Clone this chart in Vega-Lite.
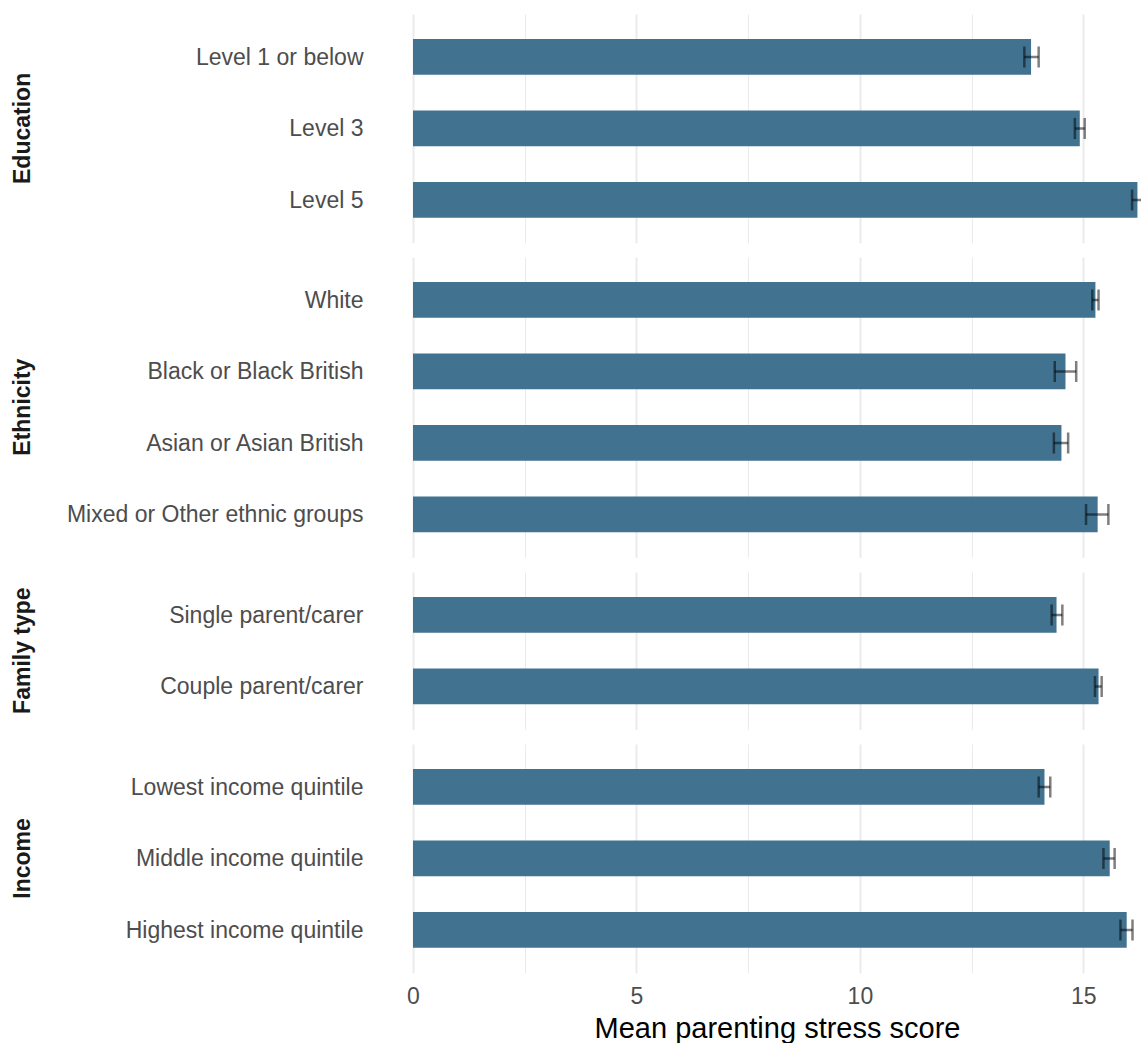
{
  "$schema": "https://vega.github.io/schema/vega-lite/v6.json",
  "padding": {"left": 12, "top": 14, "right": 0, "bottom": 5},
  "autosize": {"type": "pad"},
  "background": "white",
  "config": {"view": {"stroke": null}, "font": "Liberation Sans"},
  "data": {"values": [
    {"group": "Education", "category": "Level 1 or below", "mean": 13.83, "lower": 13.68, "upper": 14.0},
    {"group": "Education", "category": "Level 3", "mean": 14.92, "lower": 14.81, "upper": 15.03},
    {"group": "Education", "category": "Level 5", "mean": 16.21, "lower": 16.09, "upper": 16.33},
    {"group": "Ethnicity", "category": "White", "mean": 15.27, "lower": 15.2, "upper": 15.34},
    {"group": "Ethnicity", "category": "Black or Black British", "mean": 14.6, "lower": 14.36, "upper": 14.84},
    {"group": "Ethnicity", "category": "Asian or Asian British", "mean": 14.51, "lower": 14.34, "upper": 14.66},
    {"group": "Ethnicity", "category": "Mixed or Other ethnic groups", "mean": 15.32, "lower": 15.06, "upper": 15.56},
    {"group": "Family type", "category": "Single parent/carer", "mean": 14.4, "lower": 14.29, "upper": 14.53},
    {"group": "Family type", "category": "Couple parent/carer", "mean": 15.34, "lower": 15.26, "upper": 15.41},
    {"group": "Income", "category": "Lowest income quintile", "mean": 14.13, "lower": 14.0, "upper": 14.26},
    {"group": "Income", "category": "Middle income quintile", "mean": 15.59, "lower": 15.45, "upper": 15.7},
    {"group": "Income", "category": "Highest income quintile", "mean": 15.97, "lower": 15.83, "upper": 16.1}
  ]},
  "facet": {"row": {"field": "group", "type": "nominal", "sort": ["Education", "Ethnicity", "Family type", "Income"], "title": null,
    "header": {"labelAngle": -90, "labelOrient": "left", "labelFontSize": 23, "labelFontWeight": "bold", "labelFont": "Liberation Sans", "labelColor": "#1a1a1a", "labelPadding": 20}}},
  "spacing": 14,
  "resolve": {"scale": {"y": "independent"}, "axis": {"y": "independent"}},
  "spec": {
    "width": 728,
    "height": {"step": 71.5},
    "encoding": {
      "y": {"field": "category", "type": "nominal", "sort": null, "title": null,
        "scale": {"paddingInner": 0.5, "paddingOuter": 0.35},
        "axis": {"domain": false, "ticks": false, "grid": false, "labelPadding": 50, "labelOffset": 1, "labelFontSize": 23, "labelColor": "#4d4d4d", "labelFont": "Liberation Sans", "labelLimit": 500}}
    },
    "layer": [
      {"mark": {"type": "bar", "color": "#417290", "clip": true},
       "encoding": {"x": {"field": "mean", "type": "quantitative", "title": "Mean parenting stress score",
         "scale": {"domain": [0, 16.29], "nice": false, "zero": true},
         "axis": {"values": [0, 2.5, 5, 7.5, 10, 12.5, 15], "labelExpr": "datum.value % 5 === 0 ? datum.label : ''",
           "domain": false, "ticks": false, "grid": true, "gridColor": "#ebebeb", "labelFlush": false, "labelOverlap": false,
           "gridWidth": {"condition": {"test": "datum.value % 5 === 0", "value": 2}, "value": 1},
           "labelFontSize": 23, "labelColor": "#4d4d4d", "labelFont": "Liberation Sans", "labelPadding": 12,
           "titleFontSize": 29, "titleFontWeight": "normal", "titleColor": "black", "titleFont": "Liberation Sans", "titlePadding": 6}}}},
      {"mark": {"type": "rule", "color": "black", "opacity": 0.5, "strokeWidth": 2.5, "clip": true},
       "encoding": {"x": {"field": "lower", "type": "quantitative"}, "x2": {"field": "upper"}}},
      {"mark": {"type": "tick", "orient": "vertical", "color": "black", "opacity": 0.5, "size": 21, "thickness": 2.5, "clip": true},
       "encoding": {"x": {"field": "lower", "type": "quantitative"}}},
      {"mark": {"type": "tick", "orient": "vertical", "color": "black", "opacity": 0.5, "size": 21, "thickness": 2.5, "clip": true},
       "encoding": {"x": {"field": "upper", "type": "quantitative"}}}
    ]
  }
}
